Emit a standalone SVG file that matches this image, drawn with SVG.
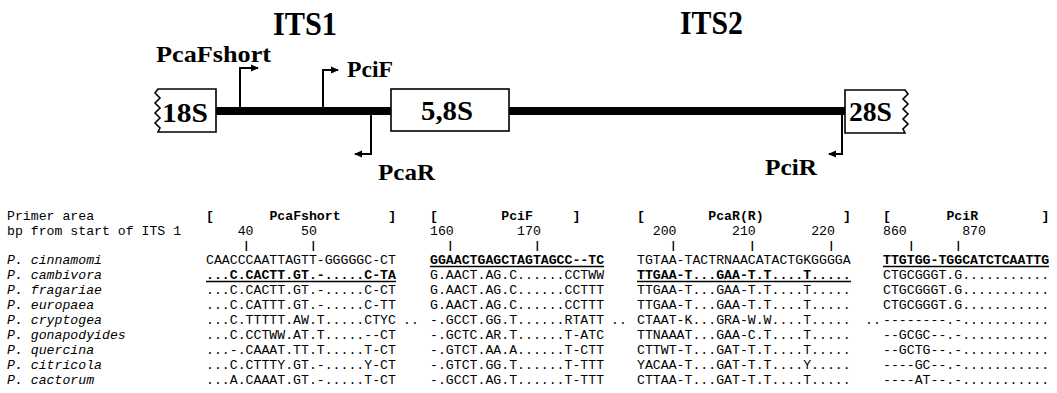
<svg xmlns="http://www.w3.org/2000/svg" width="1057" height="393" viewBox="0 0 1057 393">
<defs>
<marker id="ah" viewBox="0 0 8 8" refX="7" refY="4" markerWidth="8" markerHeight="8" markerUnits="userSpaceOnUse" orient="auto">
<path d="M0,0.5 L8,4 L0,7.5 Z" fill="#000"/>
</marker>
<style>
.lbl{font-family:"Liberation Serif","Times New Roman",serif;font-weight:bold;fill:#000}
.big{font-size:33px}
.mid{font-size:24px}
.box{fill:#fff;stroke:#000;stroke-width:1.6}
.bt{font-size:27px}
.pr{fill:none;stroke:#000;stroke-width:2;marker-end:url(#ah)}
.dna{stroke:#000;stroke-width:8;fill:none}
.mono{font-family:"Liberation Mono","Courier New",monospace;font-size:13.2px;fill:#000}
.it{font-style:italic}
.b{font-weight:bold}
.tk{font-size:11px;font-weight:bold}
.ul{stroke:#000;stroke-width:1.3}
</style>
</defs>
<rect width="1057" height="393" fill="#fff"/>
<g id="connectors">
<path class="dna" d="M216,111 H391"/>
<path class="dna" d="M509,111 H845"/>
</g>
<g id="region-its1"><text class="lbl big" x="273" y="35" textLength="64" lengthAdjust="spacingAndGlyphs">ITS1</text></g>
<g id="region-its2"><text class="lbl big" x="680" y="34" textLength="63" lengthAdjust="spacingAndGlyphs">ITS2</text></g>
<g id="node-18s">
<path class="box" d="M216,89 H158 L155,93 L160,98 L155,103 L160,108 L155,113 L160,118 L155,123 L160,128 L158,132 H216 Z"/>
<text class="lbl bt" x="162" y="122" textLength="46" lengthAdjust="spacingAndGlyphs">18S</text>
</g>
<g id="node-58s">
<rect class="box" x="391" y="89" width="118" height="42"/>
<text class="lbl bt" x="421" y="120" textLength="52" lengthAdjust="spacingAndGlyphs">5,8S</text>
</g>
<g id="node-28s">
<path class="box" d="M845,90 H905 L908,94 L903,99 L908,104 L903,109 L908,114 L903,119 L908,124 L903,129 L905,133 H845 Z"/>
<text class="lbl bt" x="849" y="121" textLength="43" lengthAdjust="spacingAndGlyphs">28S</text>
</g>
<g id="primer-pcafshort">
<path class="pr" d="M240,108 V68 H258"/>
<text class="lbl mid" x="156" y="62" textLength="115" lengthAdjust="spacingAndGlyphs">PcaFshort</text>
</g>
<g id="primer-pcif">
<path class="pr" d="M323,108 V70 H338"/>
<text class="lbl mid" x="347" y="77" textLength="46" lengthAdjust="spacingAndGlyphs">PciF</text>
</g>
<g id="primer-pcar">
<path class="pr" d="M371,114 V154 H355"/>
<text class="lbl mid" x="378" y="180" textLength="57" lengthAdjust="spacingAndGlyphs">PcaR</text>
</g>
<g id="primer-pcir">
<path class="pr" d="M842,114 V154 H829"/>
<text class="lbl mid" x="765" y="175" textLength="52" lengthAdjust="spacingAndGlyphs">PciR</text>
</g>
<g id="alignment" class="mono">
<text x="7" y="220">Primer area</text>
<text x="206" y="220" class="b">[</text><text x="269.4" y="220" class="b">PcaFshort</text><text x="388.2" y="220" class="b">]</text>
<text x="430" y="220" class="b">[</text><text x="501.3" y="220" class="b">PciF</text><text x="572.6" y="220" class="b">]</text>
<text x="637" y="220" class="b">[</text><text x="708.3" y="220" class="b">PcaR(R)</text><text x="842.9" y="220" class="b">]</text>
<text x="883" y="220" class="b">[</text><text x="946.4" y="220" class="b">PciR</text><text x="1041.4" y="220" class="b">]</text>
<text x="7" y="235">bp from start of ITS 1</text>
<text x="237.7" y="235">40</text><text x="301" y="235">50</text>
<text x="430" y="235">160</text><text x="517.1" y="235">170</text>
<text x="652.8" y="235">200</text><text x="732" y="235">210</text><text x="811.2" y="235">220</text>
<text x="883" y="235">860</text><text x="962.2" y="235">870</text>
<g class="tk">
<text x="243" y="249">|</text><text x="310" y="249">|</text>
<text x="447" y="249">|</text><text x="534" y="249">|</text>
<text x="670" y="249">|</text><text x="749" y="249">|</text><text x="828" y="249">|</text>
<text x="908" y="249">|</text><text x="955" y="249">|</text>
</g>
<g class="it">
<text x="7" y="264">P. cinnamomi</text>
<text x="7" y="279">P. cambivora</text>
<text x="7" y="294">P. fragariae</text>
<text x="7" y="309">P. europaea</text>
<text x="7" y="324">P. cryptogea</text>
<text x="7" y="339">P. gonapodyides</text>
<text x="7" y="354">P. quercina</text>
<text x="7" y="369">P. citricola</text>
<text x="7" y="384">P. cactorum</text>
</g>
<g id="col-pcafshort">
<text x="206" y="264">CAACCCAATTAGTT-GGGGGC-CT</text>
<text x="206" y="279" class="b">...C.CACTT.GT.-.....C-TA</text>
<text x="206" y="294">...C.CACTT.GT.-.....C-CT</text>
<text x="206" y="309">...C.CATTT.GT.-.....C-TT</text>
<text x="206" y="324">...C.TTTTT.AW.T.....CTYC</text>
<text x="206" y="339">...C.CCTWW.AT.T.....--CT</text>
<text x="206" y="354">...-.CAAAT.TT.T.....T-CT</text>
<text x="206" y="369">...C.CTTTY.GT.-.....Y-CT</text>
<text x="206" y="384">...A.CAAAT.GT.-.....T-CT</text>
</g>
<g id="col-pcif">
<text x="430" y="264" class="b">GGAACTGAGCTAGTAGCC--TC</text>
<text x="430" y="279">G.AACT.AG.C......CCTWW</text>
<text x="430" y="294">G.AACT.AG.C......CCTTT</text>
<text x="430" y="309">G.AACT.AG.C......CCTTT</text>
<text x="430" y="324">-.GCCT.GG.T......RTATT</text>
<text x="430" y="339">-.GCTC.AR.T......T-ATC</text>
<text x="430" y="354">-.GTCT.AA.A......T-CTT</text>
<text x="430" y="369">-.GTCT.GG.T......T-TTT</text>
<text x="430" y="384">-.GCCT.AG.T......T-TTT</text>
</g>
<g id="col-pcar">
<text x="637" y="264">TGTAA-TACTRNAACATACTGKGGGGA</text>
<text x="637" y="279" class="b">TTGAA-T...GAA-T.T....T.....</text>
<text x="637" y="294">TTGAA-T...GAA-T.T....T.....</text>
<text x="637" y="309">TTGAA-T...GAA-T.T....T.....</text>
<text x="637" y="324">CTAAT-K...GRA-W.W....T.....</text>
<text x="637" y="339">TTNAAAT...GAA-C.T....T.....</text>
<text x="637" y="354">CTTWT-T...GAT-T.T....T.....</text>
<text x="637" y="369">YACAA-T...GAT-T.T....Y.....</text>
<text x="637" y="384">CTTAA-T...GAT-T.T....T.....</text>
</g>
<g id="col-pcir">
<text x="883" y="264" class="b">TTGTGG-TGGCATCTCAATTG</text>
<text x="883" y="279">CTGCGGGT.G...........</text>
<text x="883" y="294">CTGCGGGT.G...........</text>
<text x="883" y="309">CTGCGGGT.G...........</text>
<text x="883" y="324">--------.-...........</text>
<text x="883" y="339">--GCGC--.-...........</text>
<text x="883" y="354">--GCTG--.-...........</text>
<text x="883" y="369">----GC--.-...........</text>
<text x="883" y="384">----AT--.-...........</text>
</g>
<text x="403" y="324">..</text><text x="611" y="324">..</text><text x="865" y="324">..</text>
<line class="ul" x1="206" y1="281.5" x2="396" y2="281.5"/>
<line class="ul" x1="430" y1="266.5" x2="604" y2="266.5"/>
<line class="ul" x1="637" y1="281.5" x2="851" y2="281.5"/>
<line class="ul" x1="883" y1="266.5" x2="1049" y2="266.5"/>
</g>
</svg>
